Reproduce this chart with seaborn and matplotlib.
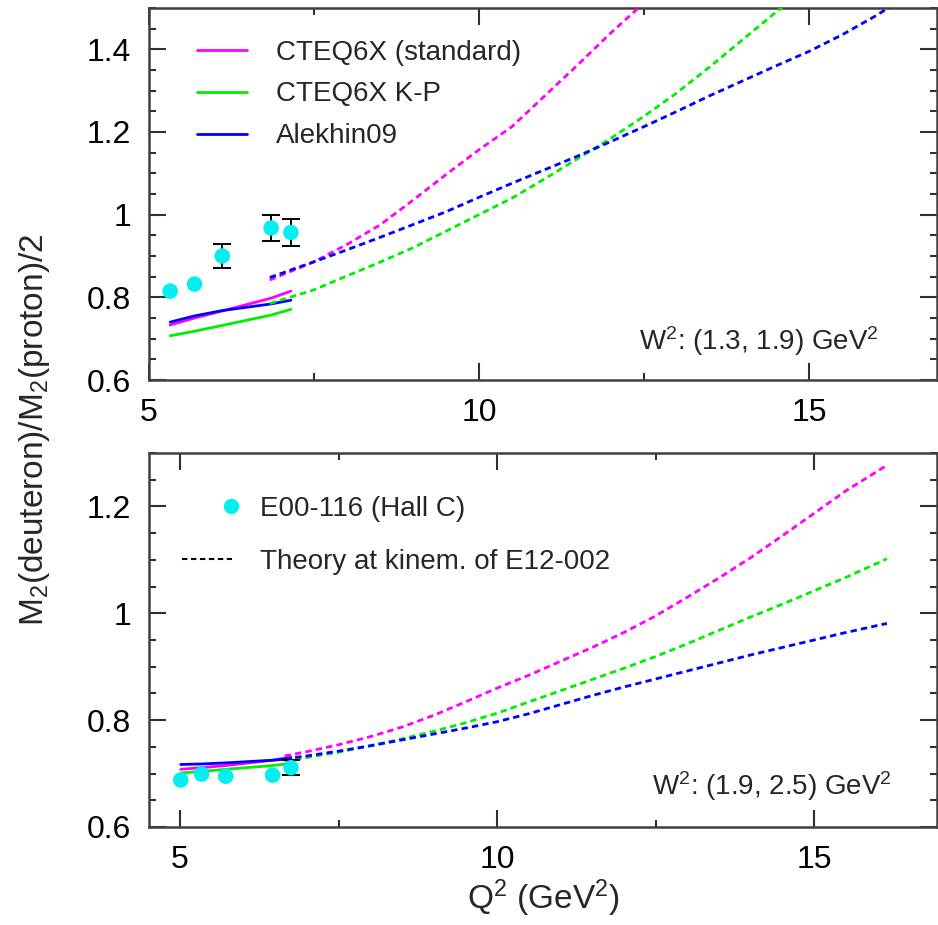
import numpy as np
import matplotlib
matplotlib.use("Agg")
import matplotlib.pyplot as plt
import seaborn as sns
from matplotlib.lines import Line2D
from matplotlib.legend_handler import HandlerLine2DCompound
from matplotlib.ticker import FixedLocator, MultipleLocator, FuncFormatter

# ---------------- data ----------------
# Upper panel: W^2 in (1.3, 1.9) GeV^2
top_data_q2 = [5.32, 5.69, 6.11, 6.85, 7.15]
top_data_ratio = [0.815, 0.832, 0.900, 0.968, 0.957]
top_data_err = [0.0, 0.0, 0.028, 0.032, 0.032]

top_solid_q2 = [5.32, 5.69, 6.11, 6.85, 7.15]
top_solid_std = [0.733, 0.750, 0.767, 0.798, 0.815]
top_solid_kp = [0.707, 0.718, 0.732, 0.757, 0.771]
top_solid_alk = [0.740, 0.755, 0.768, 0.784, 0.793]

top_dash_std_q2 = [6.83, 7.5, 8.0, 8.5, 9.0, 9.5, 10.0, 10.5, 11.0, 11.5, 12.0, 12.45]
top_dash_std = [0.842, 0.886, 0.928, 0.975, 1.035, 1.097, 1.157, 1.213, 1.288, 1.363, 1.440, 1.505]
top_dash_kp_q2 = [6.83, 7.13, 7.5, 8.0, 8.5, 9.0, 9.5, 10.0, 10.5, 11.0, 11.5, 12.0,
                  12.5, 13.0, 13.5, 14.0, 14.5, 14.62]
top_dash_kp = [0.785, 0.800, 0.818, 0.852, 0.885, 0.920, 0.960, 1.000, 1.040, 1.087,
               1.136, 1.185, 1.238, 1.295, 1.358, 1.424, 1.490, 1.505]
top_dash_alk_q2 = [6.83, 7.5, 8.0, 8.5, 9.0, 9.5, 10.0, 10.5, 11.0, 11.5, 12.0, 12.5,
                   13.0, 13.5, 14.0, 14.5, 15.0, 15.5, 16.0, 16.25]
top_dash_alk = [0.848, 0.886, 0.915, 0.945, 0.976, 1.007, 1.042, 1.076, 1.109, 1.142,
                1.177, 1.213, 1.250, 1.288, 1.324, 1.360, 1.395, 1.435, 1.480, 1.505]

# Lower panel: W^2 in (1.9, 2.5) GeV^2
bot_data_q2 = [5.01, 5.34, 5.72, 6.46, 6.75]
bot_data_ratio = [0.688, 0.699, 0.695, 0.697, 0.711]
bot_data_err = [0.0, 0.0, 0.0, 0.0, 0.014]

bot_solid_q2 = [5.01, 5.34, 5.72, 6.46, 6.75]
bot_solid_std = [0.708, 0.711, 0.715, 0.725, 0.731]
bot_solid_kp = [0.701, 0.704, 0.708, 0.715, 0.719]
bot_solid_alk = [0.717, 0.718, 0.720, 0.725, 0.728]

bot_dash_q2 = [6.65, 7.0, 7.5, 8.0, 8.5, 9.0, 9.5, 10.0, 10.5, 11.0, 11.5, 12.0,
               12.5, 13.0, 13.5, 14.0, 14.5, 15.0, 15.5, 16.15]
bot_dash_std = [0.733, 0.741, 0.754, 0.769, 0.787, 0.809, 0.834, 0.860, 0.884, 0.910,
                0.936, 0.964, 0.995, 1.030, 1.066, 1.104, 1.145, 1.187, 1.229, 1.277]
bot_dash_kp = [0.724, 0.730, 0.740, 0.752, 0.765, 0.779, 0.795, 0.813, 0.834, 0.855,
               0.876, 0.897, 0.919, 0.943, 0.968, 0.993, 1.017, 1.042, 1.067, 1.102]
bot_dash_alk = [0.728, 0.733, 0.742, 0.752, 0.763, 0.774, 0.785, 0.797, 0.812, 0.829,
                0.846, 0.862, 0.877, 0.892, 0.907, 0.922, 0.936, 0.950, 0.964, 0.981]

model_labels = ["CTEQ6X (standard)", "CTEQ6X K-P", "Alekhin09"]
model_colors = ["#ff00ff", "#00ee00", "#0000ff"]
data_label = "E00-116 (Hall C)"
theory_label = "Theory at kinem. of E12-002"
data_color = "#00f0f0"

# ---------------- style ----------------
sns.set_theme(style="ticks")
plt.rcParams["font.family"] = ["Liberation Sans", "DejaVu Sans"]
plt.rcParams.update({
    "mathtext.fontset": "custom",
    "mathtext.rm": "Liberation Sans",
    "mathtext.it": "Liberation Sans:italic",
    "mathtext.bf": "Liberation Sans:bold",
    "axes.edgecolor": "#404040",
    "axes.linewidth": 1.8,
})

W, H = 938, 925
fig = plt.figure(figsize=(W / 100, H / 100), dpi=100)
ax_top = fig.add_axes([149 / W, 1 - 380 / H, 788 / W, 372 / H])
ax_bot = fig.add_axes([149 / W, 1 - 827 / H, 788 / W, 374 / H])

LW = 2.0
DASH = (0, (2.3, 1.5))


def curve(ax, x, y, color, dashed):
    sns.lineplot(x=x, y=y, ax=ax, color=color, lw=LW, sort=False, estimator=None,
                 linestyle=DASH if dashed else "-", zorder=3)


def points(ax, x, y, err):
    x, y, err = map(np.asarray, (x, y, err))
    shown = err > 0
    ax.errorbar(x[shown], y[shown], yerr=err[shown], fmt="none", ecolor="black",
                elinewidth=1.4, capsize=6.5, capthick=1.4, zorder=4)
    sns.scatterplot(x=x, y=y, ax=ax, color=data_color, s=125, edgecolor="none",
                    zorder=5, legend=False)


# upper panel
for ys, c in zip([top_solid_std, top_solid_kp, top_solid_alk], model_colors):
    curve(ax_top, top_solid_q2, ys, c, False)
for xs, ys, c in zip([top_dash_std_q2, top_dash_kp_q2, top_dash_alk_q2],
                     [top_dash_std, top_dash_kp, top_dash_alk], model_colors):
    curve(ax_top, xs, ys, c, True)
points(ax_top, top_data_q2, top_data_ratio, top_data_err)

# lower panel
for ys, c in zip([bot_solid_std, bot_solid_kp, bot_solid_alk], model_colors):
    curve(ax_bot, bot_solid_q2, ys, c, False)
for ys, c in zip([bot_dash_std, bot_dash_kp, bot_dash_alk], model_colors):
    curve(ax_bot, bot_dash_q2, ys, c, True)
points(ax_bot, bot_data_q2, bot_data_ratio, bot_data_err)

# axes formatting
fmt = FuncFormatter(lambda v, p: f"{v:g}")
for ax, xlim, ylim in [(ax_top, (5.0, 16.94), (0.6, 1.5)),
                       (ax_bot, (4.51, 16.94), (0.6, 1.3))]:
    ax.set_xlim(*xlim)
    ax.set_ylim(*ylim)
    ax.xaxis.set_major_locator(FixedLocator([5, 10, 15]))
    ax.xaxis.set_minor_locator(FixedLocator([7.5, 12.5]))
    ax.yaxis.set_major_locator(MultipleLocator(0.2))
    ax.yaxis.set_minor_locator(MultipleLocator(0.05))
    ax.yaxis.set_major_formatter(fmt)
    ax.xaxis.set_major_formatter(fmt)
    ax.tick_params(which="both", direction="in", top=True, right=True,
                   colors="#303030", labelcolor="black", width=1.5)
    ax.tick_params(which="major", length=12, labelsize=23, pad=13)
    ax.tick_params(which="minor", length=5)
    ax.set_xlabel("")
    ax.set_ylabel("")
    for s in ax.spines.values():
        s.set_visible(True)

ax_bot.set_xlabel(r"Q$^2$ (GeV$^2$)", fontsize=24, labelpad=2)
fig.text(35 / W, 1 - 430 / H, r"M$_2$(deuteron)/M$_2$(proton)/2", rotation=90,
         fontsize=24, ha="center", va="center")

ax_top.text(0.622, 0.081, r"W$^2$: (1.3, 1.9) GeV$^2$", transform=ax_top.transAxes,
            fontsize=20, ha="left", va="baseline")
ax_bot.text(0.638, 0.086, r"W$^2$: (1.9, 2.5) GeV$^2$", transform=ax_bot.transAxes,
            fontsize=20, ha="left", va="baseline")

# legends
model_handles = [Line2D([], [], color=c, lw=LW) for c in model_colors]
ax_top.legend(model_handles, model_labels, loc="upper left",
              bbox_to_anchor=(0.061, 0.915), frameon=False, fontsize=20,
              handlelength=1.8, handletextpad=1.05, labelspacing=0.57,
              borderpad=0, borderaxespad=0)


class MarkerAtEnd(HandlerLine2DCompound):
    """Single legend marker drawn at the right end of the handle box."""
    def get_xdata(self, legend, xdescent, ydescent, width, height, fontsize):
        xdata = np.array([-xdescent, -xdescent + width])
        return xdata, np.array([-xdescent + width - 0.05 * fontsize])


data_handle = Line2D([], [], color=data_color, marker="o", ls="none", markersize=11,
                     markeredgewidth=0)
theory_handle = Line2D([], [], color="black", lw=1.5, ls=(0, (2.6, 1.7)))
ax_bot.legend([data_handle, theory_handle], [data_label, theory_label],
              loc="upper left", bbox_to_anchor=(0.042, 0.885), frameon=False,
              fontsize=20, handlelength=1.8, handletextpad=1.0, labelspacing=0.97,
              borderpad=0, borderaxespad=0,
              handler_map={data_handle: MarkerAtEnd()})

fig.savefig("out.png", dpi=100)
